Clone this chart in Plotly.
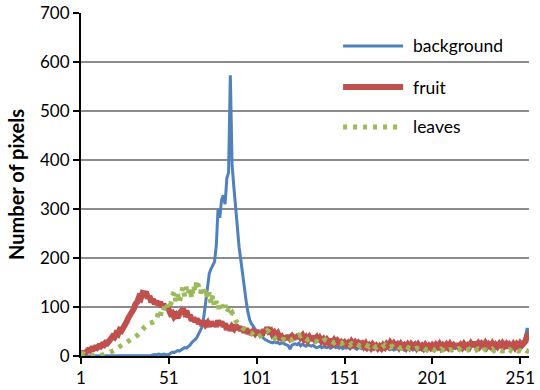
import plotly.graph_objects as go

# Gray-level bins (1..256) and pixel counts per class
levels = list(range(1, 257))

background = [
    0, 0, 0, 0, 0, 0, 0, 0, 0, 0,
    0, 0, 0, 0, 0, 0, 0, 0, 0, 0,
    0, 0, 0, 0, 0, 0, 0, 0, 0, 0,
    0, 0, 0, 0, 1, 0, 1, 1, 0, 1,
    1, 2, 3, 2, 4, 3, 2, 4, 3, 2,
    3, 5, 8, 7, 9, 11, 10, 13, 15, 17,
    16, 19, 22, 27, 30, 34, 38, 45, 52, 60,
    82, 110, 148, 168, 178, 185, 192, 225, 300, 282,
    318, 328, 310, 362, 375, 573, 390, 345, 300, 250,
    222, 195, 165, 138, 112, 90, 74, 66, 60, 56,
    50, 46, 42, 40, 36, 33, 31, 30, 28, 27,
    29, 27, 28, 25, 26, 27, 24, 23, 21, 14,
    22, 24, 25, 23, 26, 21, 24, 22, 20, 23,
    21, 20, 22, 19, 17, 18, 20, 17, 19, 18,
    17, 19, 16, 18, 20, 17, 18, 16, 19, 15,
    17, 16, 18, 15, 17, 19, 16, 14, 17, 16,
    15, 17, 14, 16, 15, 17, 13, 15, 16, 14,
    15, 13, 16, 14, 15, 17, 13, 15, 12, 14,
    15, 13, 14, 16, 12, 15, 17, 13, 14, 12,
    14, 16, 13, 15, 12, 14, 13, 15, 16, 14,
    15, 13, 16, 14, 17, 15, 13, 16, 14, 15,
    17, 14, 16, 15, 18, 16, 19, 17, 20, 22,
    25, 27, 26, 22, 20, 17, 19, 21, 24, 27,
    26, 23, 20, 18, 17, 19, 21, 18, 20, 23,
    26, 28, 24, 20, 19, 17, 18, 20, 22, 19,
    21, 24, 30, 40, 57, 40,
]

fruit = [
    2, 6, 5, 10, 12, 11, 15, 14, 17, 16,
    20, 19, 23, 22, 27, 26, 32, 34, 40, 38,
    46, 44, 53, 51, 60, 66, 70, 78, 83, 92,
    96, 106, 110, 120, 117, 128, 126, 131, 118, 122,
    110, 116, 106, 112, 104, 110, 100, 106, 96, 102,
    90, 86, 88, 80, 84, 78, 86, 90, 96, 88,
    92, 80, 84, 72, 78, 70, 76, 66, 72, 62,
    72, 64, 68, 60, 70, 62, 68, 60, 72, 64,
    70, 60, 66, 54, 62, 52, 60, 56, 64, 54,
    60, 52, 58, 48, 56, 46, 52, 44, 50, 46,
    52, 44, 50, 42, 54, 48, 58, 50, 52, 44,
    48, 42, 46, 38, 40, 32, 40, 34, 42, 36,
    40, 34, 42, 36, 44, 38, 42, 34, 38, 32,
    38, 32, 40, 34, 38, 30, 36, 30, 34, 28,
    33, 28, 34, 27, 32, 26, 31, 27, 29, 25,
    28, 24, 27, 22, 29, 24, 28, 23, 27, 24,
    26, 20, 25, 18, 22, 17, 23, 18, 21, 16,
    20, 16, 22, 18, 24, 20, 27, 22, 26, 21,
    24, 18, 24, 19, 22, 17, 23, 18, 24, 20,
    23, 17, 23, 18, 21, 16, 22, 17, 21, 17,
    22, 18, 23, 19, 24, 17, 22, 18, 23, 18,
    24, 18, 22, 17, 25, 19, 23, 18, 24, 19,
    22, 18, 25, 20, 28, 22, 26, 20, 25, 21,
    26, 19, 24, 20, 25, 18, 23, 19, 24, 18,
    25, 20, 24, 17, 23, 19, 24, 18, 24, 20,
    26, 22, 28, 30, 42, 45,
]

leaves = [
    6, 4, 3, 2, 2, 1, 2, 1, 2, 1,
    2, 1, 2, 3, 4, 5, 7, 8, 10, 12,
    15, 18, 20, 22, 24, 26, 28, 29, 31, 33,
    36, 39, 42, 45, 49, 54, 58, 63, 65, 67,
    67, 69, 71, 74, 88, 80, 96, 92, 108, 100,
    110, 104, 122, 131, 112, 126, 110, 128, 141, 122,
    141, 128, 138, 118, 145, 132, 155, 140, 128, 142,
    122, 138, 116, 130, 106, 124, 100, 112, 96, 110,
    100, 94, 104, 88, 96, 84, 88, 76, 72, 68,
    64, 59, 57, 55, 53, 52, 50, 47, 43, 40,
    37, 39, 42, 45, 48, 50, 52, 49, 45, 40,
    36, 34, 33, 35, 32, 34, 33, 31, 36, 33,
    33, 35, 38, 40, 43, 41, 43, 39, 36, 33,
    35, 33, 31, 29, 30, 27, 29, 28, 31, 33,
    31, 33, 32, 29, 27, 30, 28, 27, 25, 27,
    29, 26, 24, 22, 25, 23, 21, 24, 22, 20,
    22, 20, 23, 21, 19, 22, 24, 20, 18, 21,
    19, 17, 20, 22, 19, 21, 18, 20, 17, 19,
    21, 18, 16, 19, 17, 20, 18, 15, 17, 16,
    14, 16, 15, 13, 15, 17, 14, 12, 15, 13,
    14, 12, 15, 13, 11, 14, 12, 10, 13, 11,
    13, 12, 14, 11, 13, 15, 12, 10, 13, 11,
    12, 14, 11, 13, 10, 12, 14, 11, 9, 12,
    13, 11, 10, 12, 14, 11, 13, 10, 12, 11,
    10, 12, 9, 11, 13, 10, 8, 11, 12, 10,
    11, 9, 12, 13, 10, 12,
]

x_ticks = [1, 51, 101, 151, 201, 251]
y_ticks = [0, 100, 200, 300, 400, 500, 600, 700]

names = ["background", "fruit", "leaves"]
series = [background, fruit, leaves]
colors = ["#4F81BD", "#C0504D", "#9BBB59"]
widths = [3, 6, 5]
dashes = ["solid", "solid", "4px,6px"]

FONT = "Lato, 'Open Sans', sans-serif"

fig = go.Figure()
for name, ys, c, w, d in zip(names, series, colors, widths, dashes):
    fig.add_trace(go.Scatter(
        x=levels, y=ys, mode="lines", name=name,
        line=dict(color=c, width=w, dash=d),
        showlegend=False,
    ))

# Legend drawn inside the plot area, upper right
leg_y = [0.904, 0.784, 0.668]
for name, c, w, d, ly in zip(names, colors, widths, dashes, leg_y):
    fig.add_shape(type="line", xref="paper", yref="paper",
                  x0=0.585, x1=0.719, y0=ly, y1=ly,
                  line=dict(color=c, width=w, dash=d))
    fig.add_annotation(xref="paper", yref="paper", x=0.737, y=ly,
                       text=name, showarrow=False, xanchor="left",
                       yanchor="middle", font=dict(size=17.5, color="#000000", family=FONT))

fig.update_layout(
    width=540, height=390,
    margin=dict(l=81, r=11, t=13, b=34),
    paper_bgcolor="white", plot_bgcolor="white",
    font=dict(family=FONT, size=17, color="#000000"),
)
fig.update_xaxes(
    range=[1, 256], tickvals=x_ticks, ticktext=[str(v) for v in x_ticks],
    showgrid=False, zeroline=False, automargin=False,
    showline=True, linecolor="#000000", linewidth=2,
    ticks="outside", ticklen=6, tickwidth=1.5, tickcolor="#000000",
    tickfont=dict(size=17),
)
fig.update_yaxes(
    range=[0, 700], tickvals=y_ticks, automargin=False,
    showgrid=True, gridcolor="#8C8C8C", gridwidth=1.5, zeroline=False,
    showline=True, linecolor="#000000", linewidth=2,
    ticks="outside", ticklen=6, tickwidth=1.5, tickcolor="#000000",
    tickfont=dict(size=17),
    title=dict(text="<b>Number of pixels</b>", font=dict(size=20), standoff=10),
)

fig.write_html("out.html")
